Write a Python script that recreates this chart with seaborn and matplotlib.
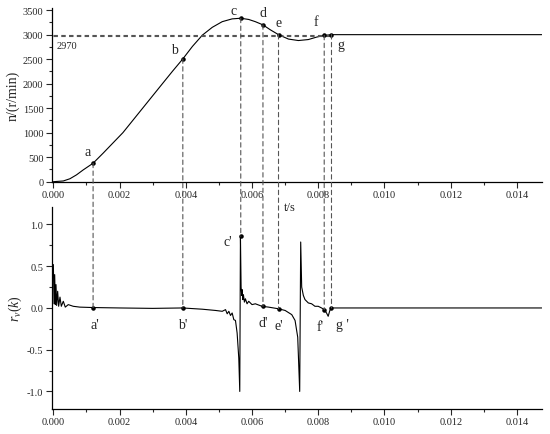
import numpy as np
import pandas as pd
import matplotlib
matplotlib.use("Agg")
import matplotlib.pyplot as plt
from matplotlib.patches import ConnectionPatch
from matplotlib.ticker import MultipleLocator, FormatStrFormatter
import seaborn as sns

# speed curve n(t), t in ms
t_speed_ms = [0, 0.3, 0.5, 0.7, 0.9, 1.2, 1.5, 1.8, 2.1, 2.5, 2.9, 3.3, 3.6, 3.91, 4.2,
              4.5, 4.8, 5.1, 5.4, 5.66, 5.9, 6.1, 6.33, 6.55, 6.8, 7.1, 7.4, 7.7, 7.95,
              8.18, 8.4, 14.75]
speed = [0, 15, 60, 140, 240, 377, 580, 790, 1000, 1335, 1670, 2005, 2255, 2505, 2760,
         2990, 3150, 3265, 3322, 3335, 3310, 3265, 3200, 3100, 3000, 2910, 2880, 2900,
         2950, 2985, 3000, 3000]

# r_v(k) curve, t in ms
t_r_ms = [0.0, 0.02, 0.04, 0.06, 0.08, 0.10, 0.13, 0.16, 0.20, 0.24, 0.30, 0.36, 0.45,
          0.6, 0.8, 1.2, 2.0, 3.0, 3.9, 4.5, 4.9, 5.1, 5.2, 5.25, 5.3, 5.35, 5.4, 5.45,
          5.5, 5.55, 5.6, 5.63, 5.65, 5.67, 5.69, 5.7, 5.72, 5.74, 5.77, 5.8, 5.85,
          5.9, 6.0, 6.1, 6.3, 6.5, 6.8, 7.0, 7.2, 7.3, 7.38, 7.44, 7.47, 7.5, 7.55,
          7.6, 7.7, 7.8, 7.9, 8.0, 8.1, 8.18, 8.25, 8.3, 8.35, 8.4, 14.75]
r_v = [0.52, 0.05, 0.40, 0.04, 0.28, 0.03, 0.20, 0.02, 0.13, 0.02, 0.08, 0.01, 0.04,
       0.02, 0.01, 0.005, 0.0, -0.005, 0.0, -0.015, -0.03, -0.04, -0.02, -0.07, -0.04,
       -0.09, -0.06, -0.14, -0.15, -0.3, -0.6, -1.0, 0.86, 0.25, 0.15, 0.22, 0.1, 0.16,
       0.07, 0.11, 0.05, 0.08, 0.04, 0.05, 0.02, 0.01, -0.01, -0.03, -0.08, -0.15,
       -0.35, -1.0, 0.79, 0.25, 0.15, 0.1, 0.06, 0.05, 0.02, 0.02, 0.0, -0.02, -0.06,
       -0.1, -0.03, 0.0, 0.0]

# marked points
labels = ["a", "b", "c", "d", "e", "f", "g"]
t_mark_ms = [1.2, 3.91, 5.66, 6.33, 6.8, 8.18, 8.4]
n_mark = [377, 2505, 3335, 3200, 3000, 2985, 3000]
r_mark = [0.005, 0.0, 0.86, 0.02, -0.01, -0.02, 0.0]

speed_df = pd.DataFrame({"t": np.array(t_speed_ms) / 1000, "n": speed})
r_df = pd.DataFrame({"t": np.array(t_r_ms) / 1000, "r": r_v})
t_mark = np.array(t_mark_ms) / 1000

sns.set_theme(style="ticks")
plt.rcParams["font.family"] = ["Liberation Serif", "DejaVu Serif"]
plt.rcParams["axes.unicode_minus"] = False
plt.rcParams["mathtext.fontset"] = "custom"
plt.rcParams["mathtext.rm"] = "Liberation Serif"
plt.rcParams["mathtext.it"] = "Liberation Serif:italic"

fig = plt.figure(figsize=(5.5, 4.35), dpi=100)
ax1 = fig.add_axes([0.094, 0.580, 0.891, 0.400])
ax2 = fig.add_axes([0.094, 0.0575, 0.891, 0.4645])

sns.lineplot(data=speed_df, x="t", y="n", ax=ax1, color="black", linewidth=0.8)
sns.lineplot(data=r_df, x="t", y="r", ax=ax2, color="black", linewidth=0.8)

dash_kw = dict(color="#555555", linewidth=0.8, linestyle=(0, (4, 3)))
ax1.plot([0, t_mark[-1]], [3000, 3000], **dash_kw)
ax1.plot([0, t_mark[-1]], [2970, 2970], **dash_kw)
ax1.text(0.0001, 2880, "2970", fontsize=7.5, va="top", ha="left")

ax1.scatter(t_mark, n_mark, s=5, color="black", zorder=5)
ax2.scatter(t_mark, r_mark, s=5, color="black", zorder=5)

for tm, nm, rm in zip(t_mark, n_mark, r_mark):
    con = ConnectionPatch(xyA=(tm, nm), coordsA=ax1.transData,
                          xyB=(tm, rm), coordsB=ax2.transData, **dash_kw)
    fig.add_artist(con)

# letter labels (offsets in points)
top_offsets = [(-4, 4), (-6, 2), (-5, 1), (0, 4), (0, 4), (-6, 5), (7, -12)]
bot_offsets = [(1, -12), (0, -12), (-9, -4), (0, -12), (0, -12), (-3, -12), (8, -12)]
for lab, tm, nm, rm, to, bo in zip(labels, t_mark, n_mark, r_mark, top_offsets, bot_offsets):
    ax1.annotate(lab, (tm, nm), xytext=to, textcoords="offset points",
                 ha="center", va="bottom", fontsize=10)
    ax2.annotate(lab + "'" if lab != "g" else "g '", (tm, rm), xytext=bo,
                 textcoords="offset points", ha="center", va="center", fontsize=10)

for ax in (ax1, ax2):
    ax.set_xlim(-0.00005, 0.01475)
    ax.xaxis.set_major_locator(MultipleLocator(0.002))
    ax.xaxis.set_minor_locator(MultipleLocator(0.001))
    ax.xaxis.set_major_formatter(FormatStrFormatter("%.3f"))
    ax.tick_params(which="major", direction="out", length=4, width=0.8, labelsize=7.5, pad=2)
    ax.tick_params(which="minor", direction="out", length=2.5, width=0.8)
    for side in ("top", "right"):
        ax.spines[side].set_visible(False)
    for side in ("left", "bottom"):
        ax.spines[side].set_linewidth(0.9)
        ax.spines[side].set_color("black")
    ax.set_xlabel("")

ax1.set_ylim(0, 3550)
ax1.yaxis.set_major_locator(MultipleLocator(500))
ax1.yaxis.set_minor_locator(MultipleLocator(250))
ax1.set_ylabel("n/(r/min)", fontsize=10, labelpad=2)

ax2.set_ylim(-1.21, 1.21)
ax2.yaxis.set_major_locator(MultipleLocator(0.5))
ax2.yaxis.set_minor_locator(MultipleLocator(0.25))
ax2.yaxis.set_major_formatter(FormatStrFormatter("%.1f"))
ax2.set_ylabel(r"$r_v(k)$", fontsize=10, labelpad=2)

fig.text(290 / 550, 1 - 208 / 435, "t/s", fontsize=9, ha="center", va="center")

fig.savefig("out.png", dpi=100, facecolor="white")
